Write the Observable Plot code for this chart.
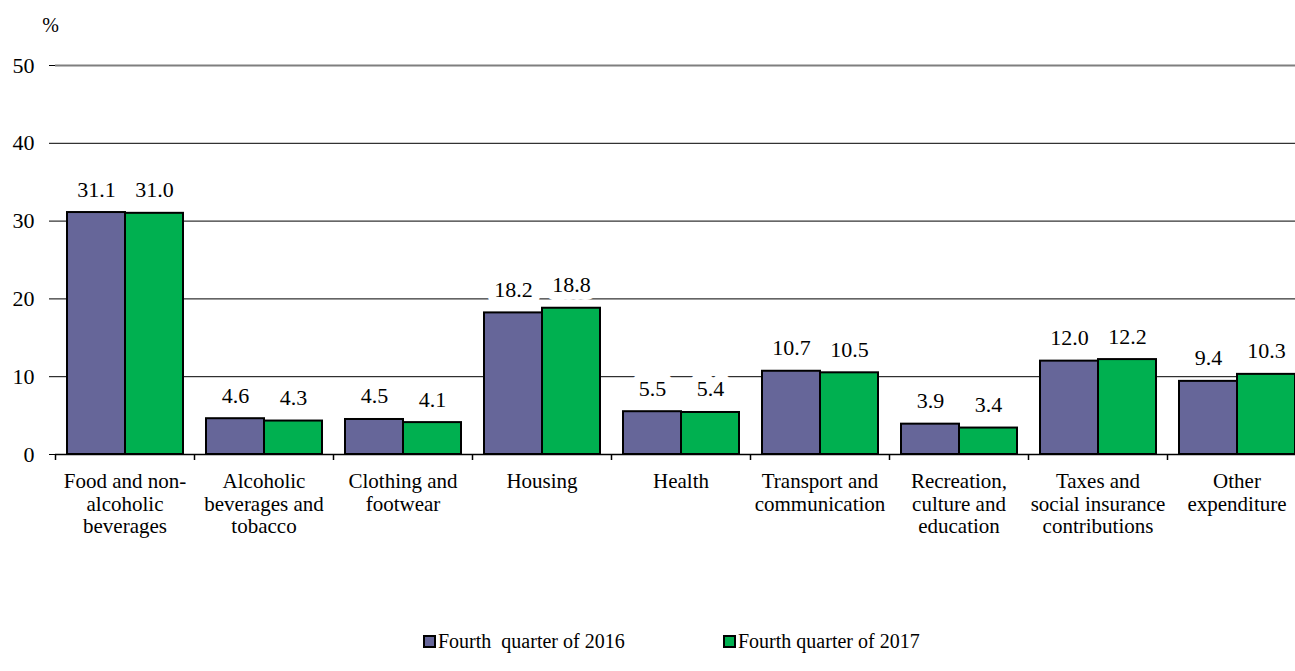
<!DOCTYPE html>
<html>
<head>
<meta charset="utf-8">
<script src="https://cdn.jsdelivr.net/npm/d3@7"></script>
<script src="https://cdn.jsdelivr.net/npm/@observablehq/plot@0.6"></script>
<style>
  html, body { margin: 0; padding: 0; background: #fff; }
  body { width: 1295px; height: 671px; overflow: hidden; font-family: "Liberation Serif", serif; }
  #chart svg { display: block; }
  #legend { position: relative; height: 24px; margin-top: 29px; font-size: 20px; font-family: "Liberation Serif", serif; color: #000; }
  .item { position: absolute; top: 0; display: flex; align-items: center; white-space: pre; line-height: 24px; }
  .sw { width: 9px; height: 9px; border: 2px solid #000; margin-right: 2px; }
</style>
</head>
<body>
<div id="chart"></div>
<div id="legend"></div>
<script>
const categories = [
  "Food and non-\nalcoholic\nbeverages",
  "Alcoholic\nbeverages and\ntobacco",
  "Clothing and\nfootwear",
  "Housing",
  "Health",
  "Transport and\ncommunication",
  "Recreation,\nculture and\neducation",
  "Taxes and\nsocial insurance\ncontributions",
  "Other\nexpenditure"
];
const seriesNames = ["Fourth  quarter of 2016", "Fourth quarter of 2017"];
const values2016 = [31.1, 4.6, 4.5, 18.2, 5.5, 10.7, 3.9, 12.0, 9.4];
const values2017 = [31.0, 4.3, 4.1, 18.8, 5.4, 10.5, 3.4, 12.2, 10.3];
const yTicks = [0, 10, 20, 30, 40, 50];
const gridTicks = [10, 20, 30, 40];
const colors = ["#666699", "#00B050"];

const rows2016 = categories.map((c, i) => ({category: c, value: values2016[i]}));
const rows2017 = categories.map((c, i) => ({category: c, value: values2017[i]}));

const font = "Liberation Serif";

const chart = Plot.plot({
  width: 1295,
  height: 600,
  marginLeft: 55,
  marginRight: 0,
  marginTop: 65,
  marginBottom: 146,
  style: {fontFamily: font, fontSize: "20px", color: "#000", background: "#fff"},
  x: {domain: categories, range: [55, 1306], padding: 0},
  y: {domain: [0, 50]},
  marks: [
    Plot.ruleY(gridTicks, {stroke: "#000", strokeWidth: 1}),
    Plot.ruleY([50], {stroke: "#7f7f7f", strokeWidth: 2}),
    Plot.text(rows2016, {x: "category", y: "value", text: d => d.value.toFixed(1), dx: -28.5, dy: -16, lineAnchor: "bottom", fontFamily: font, fontSize: 22, fill: "#000", stroke: "#fff", strokeWidth: 16}),
    Plot.text(rows2017, {x: "category", y: "value", text: d => d.value.toFixed(1), dx: 29.5, dy: -16, lineAnchor: "bottom", fontFamily: font, fontSize: 22, fill: "#000", stroke: "#fff", strokeWidth: 16}),
    Plot.barY(rows2016, {x: "category", y: "value", fill: colors[0], stroke: "#000", strokeWidth: 2, insetLeft: 12, insetRight: 69}),
    Plot.barY(rows2017, {x: "category", y: "value", fill: colors[1], stroke: "#000", strokeWidth: 2, insetLeft: 70, insetRight: 11}),
    Plot.ruleY([0], {stroke: "#000", strokeWidth: 1.5}),
    Plot.ruleX(categories, {x: d => d, dx: -69.5, y1: 0, y2: 0, insetBottom: -6, stroke: "#000", strokeWidth: 1.5}),
    Plot.axisY({ticks: yTicks, tickSize: 6, tickPadding: 15, fontFamily: font, fontSize: 22, label: null, line: true, stroke: "#000"}),
    Plot.axisX({tickSize: 0, tickPadding: 18, fontFamily: font, fontSize: 21, lineHeight: 1.07, lineAnchor: "top", label: null}),
    Plot.text(["%"], {frameAnchor: "top-left", dx: -5, dy: -40, textAnchor: "middle", lineAnchor: "middle", fontFamily: font, fontSize: 20})
  ]
});
document.getElementById("chart").appendChild(chart);

const legend = document.getElementById("legend");
const legendX = [423, 723];
seriesNames.forEach((name, i) => {
  const item = document.createElement("div");
  item.className = "item";
  item.style.left = legendX[i] + "px";
  const sw = document.createElement("span");
  sw.className = "sw";
  sw.style.background = colors[i];
  const label = document.createElement("span");
  label.textContent = name;
  item.appendChild(sw);
  item.appendChild(label);
  legend.appendChild(item);
});
</script>
</body>
</html>
